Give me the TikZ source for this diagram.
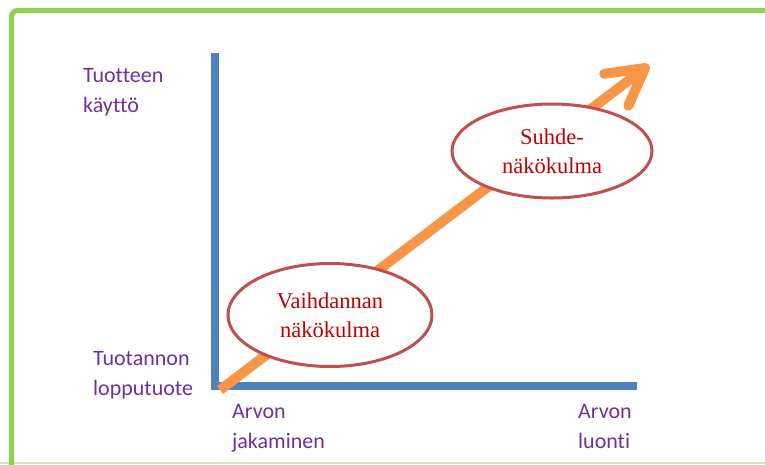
\documentclass[tikz,border=0pt]{standalone}
\usepackage{fontspec}
\setmainfont{Carlito}[Ligatures=CommonOff]
\newfontfamily\timesfont{Liberation Serif}
\usepackage{tikz}
\usetikzlibrary{arrows.meta}
\usetikzlibrary{shapes.geometric}
\definecolor{myblue}{HTML}{4F81BD}
\definecolor{myorange}{HTML}{F79646}
\definecolor{mygreen}{HTML}{92D050}
\definecolor{mylightgreen}{HTML}{D7E4BD}
\definecolor{mypurple}{HTML}{7030A0}
\definecolor{myred}{HTML}{C0504D}
\definecolor{mydarkred}{HTML}{C00000}
\tikzset{
	axislabel/.style={anchor=base west,align=left,inner sep=0pt,text=mypurple,font=\fontsize{22}{30}\selectfont},
	viewpoint/.style={ellipse,draw=myred,line width=3pt,fill=white,inner sep=0pt,align=center,text=mydarkred,font=\timesfont\fontsize{22.5}{29}\selectfont}
}

\begin{document}
\begin{tikzpicture}[x=1pt,y=-1pt]
		\useasboundingbox (0,0) rectangle (765,464);
		\clip (0,0) rectangle (765,464);
		\fill[white] (0,0) rectangle (765,464);

		% frame
		\draw[mylightgreen,line width=2pt] (0,463) -- (765,463);
		\draw[mygreen,line width=5pt,rounded corners=6pt] (11.5,10.5) rectangle (800,500);

		% axes
		\coordinate (O) at (215,386);
		\coordinate (Y) at (215,53);
		\coordinate (X) at (637,386);
		\draw[myblue,line width=8pt] (Y) -- (O) -- (X);

		% growth arrow
		\coordinate (start) at (220,390);
		\coordinate (tip) at (649,65);
		\draw[myorange,line width=10pt,-{Straight Barb[round,length=36pt,width=40pt]}] (start) -- (tip);

		\node[viewpoint,minimum width=204pt,minimum height=103pt] (exchange) at (330,315) {Vaihdannan\\näkökulma};
		\node[viewpoint,minimum width=200pt,minimum height=94pt] (relation) at (552,151) {Suhde-\\näkökulma};

		% labels (anchored at the baseline of the second line)
		\node[axislabel] (use) at (83,112) {Tuotteen\\käyttö};
		\node[axislabel] (product) at (93,395) {Tuotannon\\lopputuote};
		\node[axislabel] (sharing) at (232,448) {Arvon\\jakaminen};
		\node[axislabel] (creation) at (578,448) {Arvon\\luonti};
	\end{tikzpicture}
\end{document}
